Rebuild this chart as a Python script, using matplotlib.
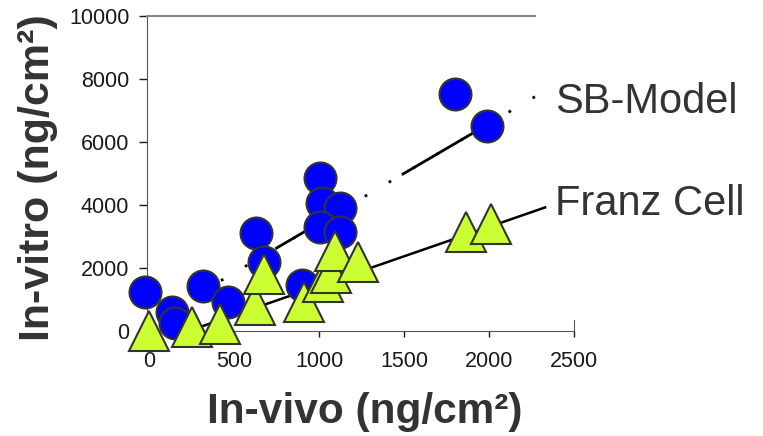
import numpy as np
import matplotlib
matplotlib.use("Agg")
import matplotlib.pyplot as plt

plt.rcParams['font.family'] = ['Liberation Sans', 'DejaVu Sans']

# SB-Model (blue circles)
sb_x = [-25, 135, 153, 318, 465, 629, 676, 900, 1006, 1018, 1124, 1006, 1124, 1800, 1988]
sb_y = [1250, 600, 250, 1430, 920, 3110, 2190, 1460, 4860, 4060, 3900, 3300, 3140, 7520, 6510]

# Franz Cell (green triangles)
fc_x = [0, 253, 418, 624, 676, 912, 1024, 1071, 1094, 1229, 1865, 2012]
fc_y = [0, 130, 220, 825, 1810, 920, 1560, 1840, 2540, 2190, 3140, 3400]

# fitted lines
sb_slope, sb_icpt = 3.16, 263
sb_solid = [(750, 930), (1110, 1190), (1494, 1906)]
fc_slope, fc_icpt = 1.87, -434
fc_range = (232, 2330)

xticks = [0, 500, 1000, 1500, 2000, 2500]
yticks = [0, 2000, 4000, 6000, 8000, 10000]

fig = plt.figure(figsize=(7.63, 4.36), dpi=100)
ax = fig.add_axes([0.1931, 0.2408, 0.5592, 0.7225])
ax.set_xlim(-10, 2500)
ax.set_ylim(0, 10000)

# SB-Model line: sparse dots plus a few solid pieces
xs = np.array([0, 2300])
ax.plot(xs, sb_slope * xs + sb_icpt, color='black', lw=2, ls=(0, (1, 9)), zorder=1, clip_on=False)
for a, b in sb_solid:
    seg = np.array([a, b])
    ax.plot(seg, sb_slope * seg + sb_icpt, color='black', lw=2, zorder=1)

# Franz Cell line
seg = np.array(fc_range)
ax.plot(seg, fc_slope * seg + fc_icpt, color='black', lw=1.8, zorder=1, clip_on=False)

ax.plot(sb_x, sb_y, 'o', ms=23, mfc='#0000ff', mec='#333333', mew=1.5, zorder=3, clip_on=False)
ax.plot(fc_x, fc_y, '^', ms=29, mfc='#ccff33', mec='#333333', mew=1.5, zorder=4, clip_on=False)

ax.set_xticks(xticks)
ax.set_yticks(yticks)
ax.tick_params(labelsize=15.5, colors='#1a1a1a', width=1)
ax.tick_params(axis='x', length=4, pad=10.5)
ax.tick_params(axis='y', length=6, pad=7)
ax.spines['top'].set_bounds(-10, 2270)
ax.spines['right'].set_bounds(0, 350)
ax.spines['top'].set_color('#888888')
ax.spines['top'].set_linewidth(1.5)
for s in ['left', 'bottom', 'right']:
    ax.spines[s].set_color('#555555')
ax.patch.set_alpha(0)

fig.text(555 / 763, 1 - 113 / 436, 'SB-Model', fontsize=30, color='#333333', va='baseline')
fig.text(555 / 763, 1 - 215 / 436, 'Franz Cell', fontsize=30, color='#333333', va='baseline')
fig.text(365 / 763, 1 - 412 / 436, 'In-vivo (ng/cm²)', fontsize=30.5, fontweight='bold',
         color='#333333', ha='center', va='center')
fig.text(38 / 763, 1 - 178 / 436, 'In-vitro (ng/cm²)', fontsize=31, fontweight='bold',
         color='#333333', ha='center', va='center', rotation=90)

fig.savefig('out.png', dpi=100)
